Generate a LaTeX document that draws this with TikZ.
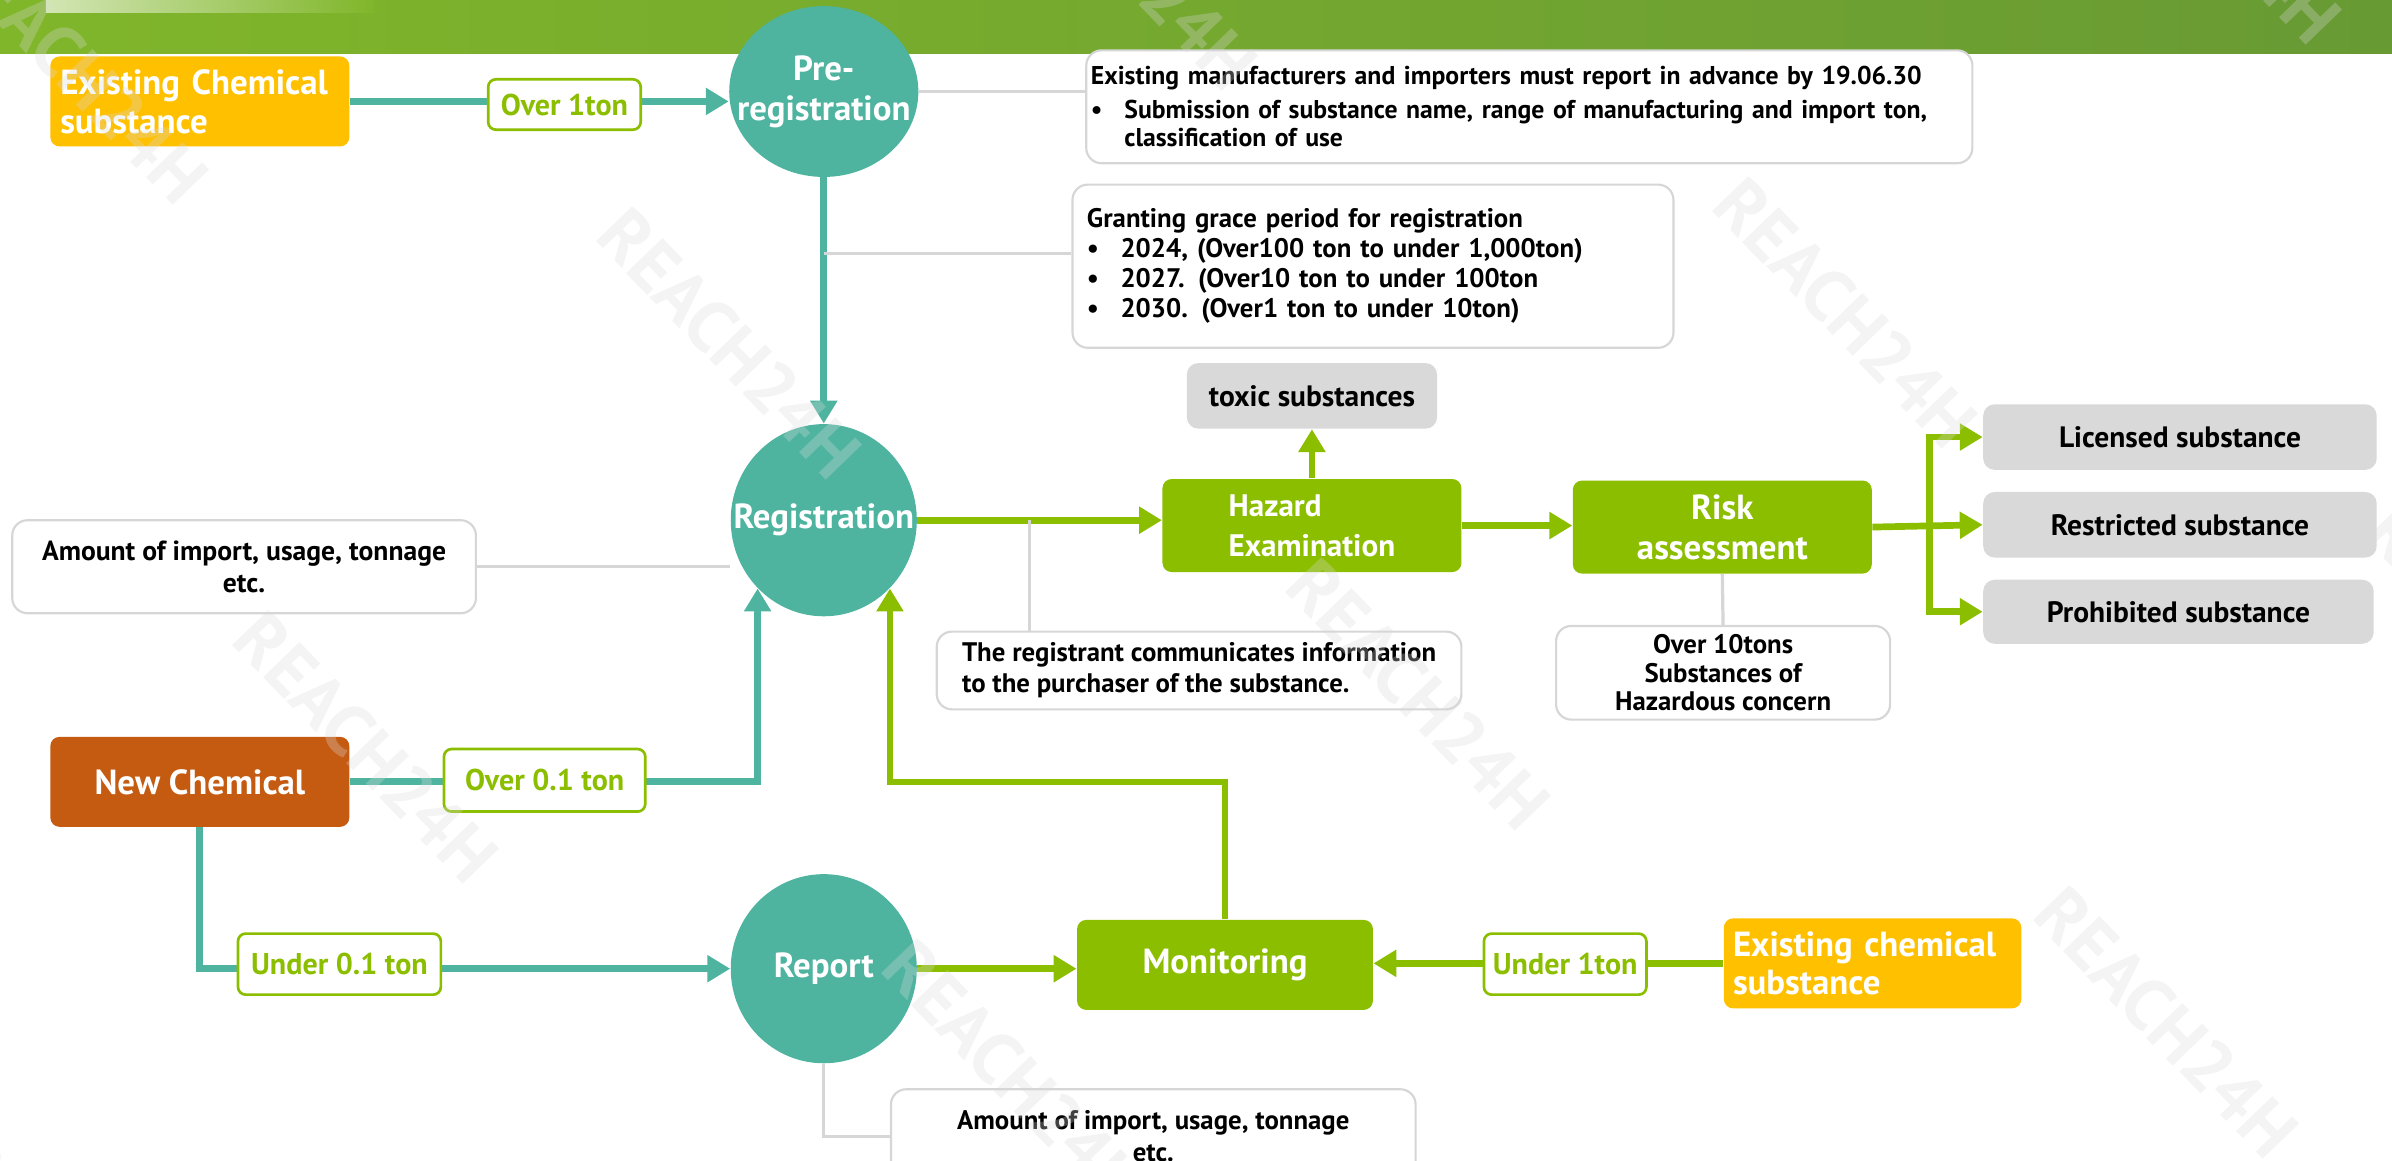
\documentclass[tikz,border=0pt]{standalone}
\usepackage{fontspec}
\setmainfont{PT Sans}
\usetikzlibrary{shapes.geometric, arrows.meta, backgrounds}

\definecolor{tealc}{RGB}{78,180,160}
\definecolor{greenc}{RGB}{140,190,0}
\definecolor{goldc}{RGB}{255,192,0}
\definecolor{rustc}{RGB}{197,90,17}
\definecolor{boxgray}{RGB}{217,217,217}
\definecolor{linegray}{RGB}{214,214,214}
\definecolor{bandl}{RGB}{128,182,42}
\definecolor{bandr}{RGB}{104,154,52}

\newcommand{\notebullet}{\makebox[0.44cm][l]{\textbullet}}

\begin{document}
\begin{tikzpicture}[
    x=0.02cm, y=-0.02cm,
    % Boxes
    chem/.style={rectangle, rounded corners=0.12cm, minimum width=3.92cm, minimum height=1.18cm, text=white, font=\fontsize{13}{14.5}\selectfont\bfseries},
    circ/.style={ellipse, fill=tealc, inner sep=0pt},
    circtext/.style={text=white, align=center, font=\fontsize{13}{15}\selectfont\bfseries},
    stage/.style={rectangle, rounded corners=0.12cm, fill=greenc, text=white, minimum width=3.92cm, minimum height=1.22cm, font=\fontsize{13}{15}\selectfont\bfseries},
    result/.style={rectangle, rounded corners=0.15cm, fill=boxgray, minimum width=5.16cm, minimum height=0.86cm, font=\fontsize{11}{13}\selectfont\bfseries},
    note/.style={rectangle, rounded corners=0.2cm, draw=linegray, line width=0.8pt, fill=white, font=\fontsize{10}{11.2}\selectfont\bfseries},
    tonlabel/.style={rectangle, rounded corners=0.1cm, draw=greenc, line width=1pt, fill=white, text=greenc, minimum height=0.8cm, font=\fontsize{11.2}{13}\selectfont\bfseries},
    % Connectors
    tealarrow/.style={draw=tealc, line width=2.5pt, -{Triangle[length=0.3cm, width=0.34cm]}},
    greenarrow/.style={draw=greenc, line width=2.5pt, -{Triangle[length=0.3cm, width=0.34cm]}},
    link/.style={draw=linegray, line width=1.2pt},
    wmark/.style={text=boxgray, opacity=0.3, rotate=-46, font=\fontsize{27}{27}\selectfont\bfseries}
]
    \useasboundingbox (0,0) rectangle (1568,761);
    \clip (0,0) rectangle (1568,761);

    % Title band
    \shade[left color=bandl, right color=bandr] (0,0) rectangle (1568,35);
    \shade[left color=bandl!35!white, right color=bandl] (30,0) rectangle (245,8);

    % Existing substances, pre-registration
    \node[chem, fill=goldc, align=left, text width=3.66cm, inner xsep=0.13cm] (exist1) at (131,66.5) {Existing Chemical\\substance};
    \node[circ, minimum width=2.48cm, minimum height=2.24cm, label={[circtext]center:Pre-\\registration}] (prereg) at (540,60) {};
    \node[note, minimum width=11.62cm, minimum height=1.48cm, text width=11.5cm, inner xsep=0.06cm, align=left, font=\fontsize{9.6}{10.6}\selectfont\bfseries] (note1) at (1002.5,70) {Existing manufacturers and importers must report in advance by 19.06.30\\[0.07cm]
        \notebullet Submission of substance name, range of manufacturing and import ton,\\
        \hspace*{0.44cm}classification of use};
    \node[note, minimum width=7.88cm, minimum height=2.14cm, text width=7.5cm, inner xsep=0.19cm, align=left] (note2) at (900,174.5) {Granting grace period for registration\\
        \notebullet 2024, (Over100 ton to under 1,000ton)\\
        \notebullet 2027. (Over10 ton to under 100ton\\
        \notebullet 2030. (Over1 ton to under 10ton)};

    % Registration and evaluation
    \node[circ, minimum width=2.44cm, minimum height=2.52cm, label={[circtext]center:Registration}] (regist) at (540,341) {};
    \node[note, minimum width=6.08cm, minimum height=1.22cm, align=center, font=\fontsize{10.3}{12}\selectfont\bfseries] (amount1) at (160,371.5) {Amount of import, usage, tonnage\\etc.};
    \node[stage, align=left, font=\fontsize{11.6}{15}\selectfont\bfseries] (hazard) at (860,344.5) {Hazard\\Examination};
    \node[result, minimum width=3.28cm] (toxic) at (860,259.5) {toxic substances};
    \node[note, minimum width=6.88cm, minimum height=1.02cm, align=left, font=\fontsize{10}{11.5}\selectfont\bfseries] (note3) at (786,439.5) {The registrant communicates information\\to the purchaser of the substance.};
    \node[stage, align=center] (risk) at (1129,345.5) {Risk\\assessment};
    \node[note, minimum width=4.38cm, minimum height=1.04cm, align=center, font=\fontsize{10}{10.5}\selectfont\bfseries] (note4) at (1129.5,441) {Over 10tons\\Substances of\\Hazardous concern};
    \node[result] (licensed) at (1429,286.5) {Licensed substance};
    \node[result] (restricted) at (1429,344) {Restricted substance};
    \node[result, minimum width=5.12cm, minimum height=0.84cm] (prohibited) at (1428,401) {Prohibited substance};

    % New substances, report, monitoring
    \node[chem, fill=rustc] (newchem) at (131,512.5) {New Chemical};
    \node[circ, minimum width=2.44cm, minimum height=2.48cm, label={[circtext]center:Report}] (report) at (540,635) {};
    \node[stage, minimum width=3.88cm, minimum height=1.18cm] (monitor) at (803,632.5) {Monitoring};
    \node[chem, fill=goldc, minimum width=3.9cm, align=left, text width=3.66cm, inner xsep=0.12cm] (exist2) at (1227.5,631.5) {Existing chemical\\substance};
    \node[note, minimum width=6.88cm, minimum height=1.24cm, align=center, font=\fontsize{10}{12}\selectfont\bfseries] (amount2) at (756,745) {Amount of import, usage, tonnage\\etc.};

    % Connectors
    \coordinate (g2) at (540,166);
    \coordinate (g3) at (675,341);
    \coordinate (fork) at (1265,345.5);
    \begin{scope}[on background layer]
        \draw[tealarrow] (exist1.east) -- (exist1.east -| prereg.west);
        \draw[tealarrow] (prereg.south) -- (regist.north);
        \draw[link] (prereg.east) -- (prereg.east -| note1.west);
        \draw[link] (g2) -- (g2 -| note2.west);
        \draw[link] (amount1.east) -- (amount1.east -| regist.west);
        \draw[greenarrow] (regist.east) -- (regist.east -| hazard.west);
        \draw[link] (g3) -- (g3 |- note3.north);
        \draw[greenarrow] (hazard.north) -- (toxic.south);
        \draw[greenarrow] (hazard.east) -- (hazard.east -| risk.west);
        \draw[link] (risk.south) -- (note4.north);
        \draw[greenarrow] (risk.east) -- (restricted.west);
        \draw[greenarrow] (fork) |- (licensed.west);
        \draw[greenarrow] (fork) |- (prohibited.west);
        \draw[tealarrow] (newchem.east) -| (regist.south west);
        \draw[tealarrow] (newchem.south) |- (report.west);
        \draw[greenarrow] (report.east) -- (report.east -| monitor.west);
        \draw[greenarrow] (monitor.north) -- ++(0,-90) -| (regist.south east);
        \draw[greenarrow] (exist2.west) -- (exist2.west -| monitor.east);
        \draw[link] (report.south) |- (amount2.west);
    \end{scope}

    % Tonnage labels
    \node[tonlabel, minimum width=2cm, minimum height=0.66cm] (over1) at (370,68.5) {Over 1ton};
    \node[tonlabel, minimum width=2.64cm, minimum height=0.82cm] (over01) at (357,511.5) {Over 0.1 ton};
    \node[tonlabel, minimum width=2.66cm] (under01) at (222.5,632) {Under 0.1 ton};
    \node[tonlabel, minimum width=2cm] (under1) at (1026,632) {Under 1ton};

    % Watermarks
    \foreach \wx/\wy [count=\wi] in {478/225, 930/455, 240/490, 665/705, 1420/670, 738/-30, 1210/205, 50/45, -42/735, 1448/-60, 1638/420}
        \node[wmark] (wm\wi) at (\wx,\wy) {REACH24H};
\end{tikzpicture}
\end{document}
